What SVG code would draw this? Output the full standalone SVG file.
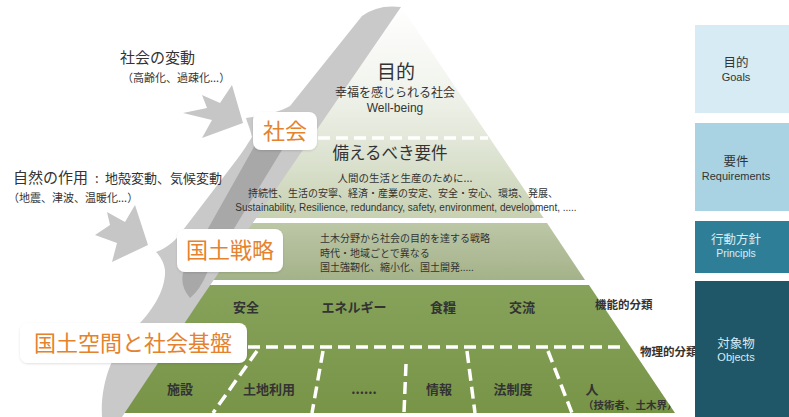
<svg xmlns="http://www.w3.org/2000/svg" width="789" height="417" viewBox="0 0 789 417">
<defs>
<linearGradient id="gTop" gradientUnits="userSpaceOnUse" x1="0" y1="5" x2="0" y2="218">
<stop offset="0" stop-color="#ffffff"/>
<stop offset="0.35" stop-color="#f3f5ef"/>
<stop offset="0.62" stop-color="#e3e8da"/>
<stop offset="1" stop-color="#c7d1b2"/>
</linearGradient>
<linearGradient id="gMid" gradientUnits="userSpaceOnUse" x1="0" y1="223" x2="0" y2="280">
<stop offset="0" stop-color="#bcc7a6"/>
<stop offset="1" stop-color="#a4b289"/>
</linearGradient>
<linearGradient id="gBot" gradientUnits="userSpaceOnUse" x1="0" y1="285" x2="0" y2="413">
<stop offset="0" stop-color="#87a35b"/>
<stop offset="1" stop-color="#789447"/>
</linearGradient>
<clipPath id="botClip"><polygon points="206,285 589,285 675,413 118,413"/></clipPath>
<filter id="sh" x="-10%" y="-20%" width="120%" height="150%"><feDropShadow dx="0" dy="1" stdDeviation="1.2" flood-color="#000" flood-opacity="0.12"/></filter>
</defs>
<style>
.t{font-family:"Liberation Sans","Noto Sans CJK JP",sans-serif;fill:#333}
.j{font-family:"Noto Sans CJK JP",sans-serif;fill:#333}
.c{text-anchor:middle}
.b{font-weight:bold}
.o{font-family:"Noto Sans CJK JP",sans-serif;fill:#e5822e;font-size:22px}
.box{fill:#fff;filter:url(#sh)}
.dash{stroke:#fff;stroke-width:3.5;stroke-dasharray:12 6;fill:none}
.arrow{fill:#c6c6c6}
.lt{fill:#d8ecf4}
</style>
<rect width="789" height="417" fill="#fff"/>

<g id="tier-goal-requirements">
<polygon points="400,5 543.6,218 252.6,218" fill="url(#gTop)"/>
<line class="dash" x1="318" y1="138" x2="488" y2="138"/>
</g>
<g id="tier-strategy">
<polygon points="249,223 547,223 585,280 210,280" fill="url(#gMid)"/>
</g>
<g id="tier-objects">
<polygon points="206,285 589,285 675,413 118,413" fill="url(#gBot)"/>
<line class="dash" x1="248" y1="347" x2="624" y2="347"/>
<g clip-path="url(#botClip)">
<line class="dash" x1="257" y1="351" x2="213" y2="413"/>
<line class="dash" x1="323" y1="351" x2="312" y2="413"/>
<line class="dash" x1="406" y1="364" x2="404" y2="413"/>
<line class="dash" x1="467" y1="351" x2="475" y2="413"/>
<line class="dash" x1="548" y1="351" x2="572" y2="413"/>
</g>
</g>

<g id="connectors">
<path d="M362,16 Q378,4 401,7 L296,160 L200,300 L122,417 L102,417 C100,385 112,350 135,328 C152,312 166,290 165,270 C164,262 160,256 156,252 C166,248 174,242 180,234 L238,158 C244,150 250,140 252,137 C250,128 247,122 246,118 C262,116 280,112 290,106 Z" fill="#c9c9c9"/>
<path d="M255,145 L285,145 L207,273 Q200,290 190,298 Q180,286 183,273 Z" fill="#a8a8a8"/>
<polygon class="arrow" points="232,85 220,103 202,95 207,108 183,113 212,120 202,138 243,123"/>
<polygon class="arrow" points="135,205 125,222 107,212 110,225 95,235 117,243 112,262 148,245"/>
</g>

<g id="node-shakai">
<rect class="box" x="253" y="112" width="64" height="38" rx="8"/>
<text class="o" x="285" y="139" text-anchor="middle">社会</text>
</g>
<g id="node-kokudo-senryaku">
<rect class="box" x="177" y="229" width="106" height="43" rx="8"/>
<text class="o" x="230" y="258" text-anchor="middle">国土戦略</text>
</g>
<g id="node-kokudo-kukan">
<rect class="box" x="20" y="323" width="227" height="40" rx="8"/>
<text class="o" x="133" y="351" text-anchor="middle">国土空間と社会基盤</text>
</g>

<g id="text-society-change">
<text class="j" x="120" y="63" font-size="15">社会の変動</text>
<text class="j" x="122" y="82" font-size="11">（高齢化、過疎化...）</text>
</g>
<g id="text-nature">
<text class="j" x="13" y="183" font-size="15">自然の作用</text>
<text class="j" x="95" y="183" font-size="13">:</text>
<text class="j" x="105" y="183" font-size="13">地殻変動、気候変動</text>
<text class="j" x="8" y="201.5" font-size="11">（地震、津波、温暖化...）</text>
</g>

<g id="text-goal">
<text class="j c" x="396" y="79" font-size="19">目的</text>
<text class="j c" x="395" y="97" font-size="12">幸福を感じられる社会</text>
<text class="t c" x="395" y="112" font-size="12">Well-being</text>
</g>
<g id="text-requirements">
<text class="j c" x="390" y="159" font-size="16.5">備えるべき要件</text>
<text class="j c" x="405" y="182" font-size="10.5">人間の生活と生産のために...</text>
<text class="j c" x="403" y="197" font-size="10">持続性、生活の安寧、経済・産業の安定、安全・安心、環境、発展、</text>
<text class="t c" x="406" y="211" font-size="10">Sustainability, Resilience, redundancy, safety, environment, development, .....</text>
</g>
<g id="text-strategy">
<text class="j" x="320" y="242" font-size="10">土木分野から社会の目的を達する戦略</text>
<text class="j" x="320" y="256.5" font-size="10">時代・地域ごとで異なる</text>
<text class="j" x="320" y="270.5" font-size="10">国土強靭化、縮小化、国土開発.....</text>
</g>
<g id="text-objects">
<text class="j c b" x="246" y="311.5" font-size="13">安全</text>
<text class="j c b" x="354" y="311.5" font-size="13">エネルギー</text>
<text class="j c b" x="443" y="311.5" font-size="13">食糧</text>
<text class="j c b" x="522" y="311.5" font-size="13">交流</text>
<text class="j b" x="595" y="309" font-size="11.5">機能的分類</text>
<text class="j b" x="640" y="356" font-size="11.5">物理的分類</text>
<text class="j c b" x="180" y="393.5" font-size="13">施設</text>
<text class="j c b" x="269" y="393.5" font-size="13">土地利用</text>
<text class="j c b" x="364" y="393.5" font-size="13">......</text>
<text class="j c b" x="439" y="393.5" font-size="13">情報</text>
<text class="j c b" x="513" y="393.5" font-size="13">法制度</text>
<text class="j c b" x="592" y="393.5" font-size="13">人</text>
<text class="j b" x="583" y="409" font-size="10.5" clip-path="url(#botClip)">（技術者、土木界）</text>
</g>

<g id="legend-goals">
<rect x="695" y="25" width="94" height="88" fill="#d6ebf3"/>
<text class="j c" x="736" y="67" font-size="12.5">目的</text>
<text class="t c" x="736" y="81" font-size="11">Goals</text>
</g>
<g id="legend-requirements">
<rect x="695" y="123" width="94" height="88" fill="#a9d3e3"/>
<text class="j c" x="736" y="166" font-size="12.5">要件</text>
<text class="t c" x="736" y="180" font-size="11">Requirements</text>
</g>
<g id="legend-principles">
<rect x="695" y="221" width="94" height="52" fill="#2f7e98"/>
<text class="j c lt" x="736" y="244" font-size="12.5">行動方針</text>
<text class="t c lt" x="736" y="257" font-size="10.5">Principls</text>
</g>
<g id="legend-objects">
<rect x="695" y="281" width="94" height="136" fill="#1f5769"/>
<text class="j c lt" x="736" y="348" font-size="12.5">対象物</text>
<text class="t c lt" x="736" y="361" font-size="11">Objects</text>
</g>
</svg>
